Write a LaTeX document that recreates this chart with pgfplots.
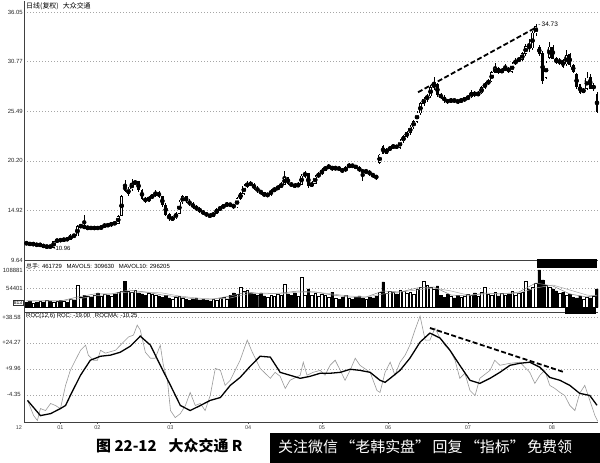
\documentclass[border=0pt]{standalone}
\usepackage{fontspec}
\setmainfont{Liberation Sans}
\newfontfamily\cjk{Noto Sans CJK SC}
\usepackage{pgfplots}
\usepackage{pgfplotstable}
\pgfplotsset{compat=1.18}

\pgfplotstableread{
i o h l c v
0 11.5 11.6 11.2 11.4 14.7
1 11.4 11.5 11.2 11.3 17.7
2 11.3 11.5 11.2 11.35 11.8
3 11.35 11.4 11.1 11.2 14.7
4 11.2 11.4 11.1 11.3 17.7
5 11.3 11.3 10.96 11.0 14.7
6 11.0 11.2 10.96 11.1 20.6
7 11.1 11.2 10.96 11.0 17.7
8 11.0 11.7 11.0 11.6 14.7
9 11.6 11.9 11.5 11.8 17.7
10 11.8 11.9 11.6 11.7 20.6
11 11.7 12.0 11.6 11.9 17.7
12 11.9 12.0 11.7 11.8 14.7
13 11.8 12.4 11.8 12.3 23.5
14 12.3 12.4 12.0 12.2 20.6
15 12.2 13.4 12.2 13.2 64.7
16 13.2 13.5 13.0 13.3 29.4
17 13.3 14.4 12.9 13.0 35.3
18 13.0 13.3 12.9 13.1 32.4
19 13.1 13.2 12.9 13.0 29.4
20 13.0 13.2 12.9 13.1 35.3
21 13.1 13.2 12.9 13.0 41.2
22 13.0 13.3 12.9 13.2 32.4
23 13.2 13.5 13.1 13.4 38.3
24 13.4 13.5 13.2 13.3 35.3
25 13.3 13.7 13.2 13.6 32.4
26 13.6 13.7 13.4 13.5 38.3
27 13.5 14.4 13.5 14.3 44.1
28 14.4 16.6 14.3 16.4 47.1
29 17.6 18.2 16.9 17.0 76.5
30 16.7 17.4 16.5 17.2 47.1
31 17.2 18.3 17.0 17.8 44.1
32 17.8 18.1 17.6 18.0 50.0
33 18.0 18.1 16.9 17.1 41.2
34 17.1 17.2 16.0 16.2 38.3
35 16.2 16.4 15.7 15.9 35.3
36 15.9 16.5 15.8 16.3 41.2
37 16.3 16.7 16.1 16.5 38.3
38 16.5 17.1 16.3 16.9 35.3
39 16.9 17.0 16.2 16.4 32.4
40 16.4 16.5 15.3 15.5 29.4
41 15.5 15.7 14.3 14.5 35.3
42 14.5 14.6 13.8 14.0 26.5
43 14.0 14.3 13.8 14.1 23.5
44 14.1 14.8 14.0 14.6 29.4
45 14.6 16.0 14.5 15.8 32.4
46 15.8 16.6 15.6 16.4 26.5
47 16.4 16.5 15.7 15.9 23.5
48 15.9 16.1 15.4 15.6 20.6
49 15.6 15.8 15.1 15.3 23.5
50 15.3 15.5 14.9 15.1 26.5
51 15.1 15.3 14.6 14.8 20.6
52 14.8 15.0 14.4 14.6 23.5
53 14.6 14.8 14.2 14.4 20.6
54 14.4 14.6 14.1 14.3 17.7
55 14.3 14.8 14.2 14.6 23.5
56 14.6 15.2 14.5 15.0 20.6
57 15.0 15.4 14.9 15.2 26.5
58 15.2 15.6 15.1 15.5 29.4
59 15.5 15.8 15.3 15.6 23.5
60 15.6 15.7 15.3 15.5 35.3
61 15.5 15.6 15.1 15.3 41.2
62 15.3 16.4 15.2 16.2 38.3
63 16.2 16.9 16.0 16.7 58.9
64 16.7 17.7 16.6 17.5 47.1
65 17.5 18.0 17.3 17.8 50.0
66 17.8 18.0 17.5 17.7 41.2
67 17.7 17.8 17.1 17.3 38.3
68 17.3 17.5 16.8 17.0 35.3
69 17.0 17.1 16.6 16.8 41.2
70 16.8 16.9 16.3 16.5 32.4
71 16.5 16.8 16.4 16.6 29.4
72 16.6 17.2 16.5 17.0 35.3
73 17.0 17.4 16.9 17.2 32.4
74 17.2 17.6 17.1 17.4 38.3
75 17.4 17.9 17.3 17.7 35.3
76 17.7 19.1 17.6 18.4 67.7
77 18.4 18.5 17.6 17.8 38.3
78 17.8 17.9 17.4 17.6 35.3
79 17.6 17.8 17.3 17.5 41.2
80 17.5 17.9 17.4 17.7 32.4
81 17.7 18.8 17.6 18.6 88.3
82 18.6 19.1 18.4 18.9 35.3
83 18.9 18.9 17.3 17.5 53.0
84 17.5 18.0 17.4 17.8 35.3
85 17.8 18.7 17.7 18.5 41.2
86 18.5 19.0 18.4 18.8 32.4
87 18.8 19.4 18.7 19.2 38.3
88 19.2 19.7 19.1 19.5 35.3
89 19.5 19.9 19.3 19.6 29.4
90 19.6 19.7 19.1 19.3 44.1
91 19.3 19.7 19.2 19.5 26.5
92 19.5 19.6 19.1 19.3 23.5
93 19.3 19.4 18.9 19.1 29.4
94 19.1 19.7 19.0 19.5 35.3
95 19.5 20.0 19.4 19.8 26.5
96 19.8 19.9 19.4 19.6 23.5
97 19.6 19.8 19.3 19.5 29.4
98 19.5 19.6 19.0 19.2 32.4
99 19.2 19.3 18.1 19.0 26.5
100 19.0 19.3 18.9 19.1 23.5
101 19.1 19.2 18.6 18.8 29.4
102 18.8 18.9 18.4 18.6 26.5
103 18.6 18.7 18.2 18.4 32.4
104 20.0 20.9 19.9 20.8 44.1
105 21.7 21.9 20.9 21.0 73.6
106 21.0 21.6 20.9 21.4 41.2
107 21.4 21.8 21.2 21.6 47.1
108 21.6 22.0 21.5 21.8 44.1
109 21.8 21.9 21.5 21.6 38.3
110 21.6 22.5 21.5 22.3 50.0
111 22.3 23.0 22.1 22.8 47.1
112 22.8 23.4 22.6 23.2 41.2
113 23.2 24.0 23.0 23.8 44.1
114 23.8 24.6 23.6 24.4 38.3
115 24.4 25.5 24.2 25.3 53.0
116 25.3 26.5 25.1 26.3 58.9
117 26.3 27.0 26.0 26.8 76.5
118 26.8 27.3 26.5 27.1 64.7
119 27.1 28.3 26.9 28.0 58.9
120 28.0 29.1 27.7 28.4 53.0
121 28.4 28.5 27.0 27.2 61.8
122 27.2 27.4 26.8 27.0 35.3
123 27.0 27.2 26.4 26.6 29.4
124 26.6 26.8 26.3 26.5 38.3
125 26.5 26.9 26.4 26.7 32.4
126 26.7 26.8 26.4 26.6 26.5
127 26.6 26.7 26.3 26.5 35.3
128 26.5 26.9 26.4 26.7 29.4
129 26.7 27.0 26.5 26.8 32.4
130 26.8 27.2 26.7 27.0 38.3
131 27.0 27.7 26.9 27.5 35.3
132 27.5 27.6 27.0 27.2 41.2
133 27.2 27.6 27.1 27.4 32.4
134 27.4 28.2 27.3 28.0 44.1
135 28.0 28.6 27.9 28.4 58.9
136 28.4 28.9 28.3 28.7 38.3
137 28.7 29.8 28.6 29.6 35.3
138 29.6 30.6 29.5 30.1 44.1
139 30.1 30.2 29.4 29.6 32.4
140 29.6 30.1 29.5 29.9 41.2
141 29.9 30.5 29.8 30.1 35.3
142 30.1 30.2 29.5 29.7 38.3
143 29.7 30.7 29.6 30.5 47.1
144 30.5 31.1 30.4 30.9 35.3
145 30.9 31.3 30.7 31.0 41.2
146 31.0 31.8 30.8 31.6 44.1
147 31.6 32.6 31.4 32.4 76.5
148 32.4 33.2 31.8 32.2 53.0
149 32.2 34.0 32.0 33.8 58.9
150 33.8 34.73 33.5 34.5 70.6
151 32.3 32.5 31.4 31.6 108.9
152 31.7 31.9 28.4 28.7 79.5
153 29.1 30.8 28.9 30.6 64.7
154 31.2 32.9 31.0 32.3 58.9
155 32.3 32.5 31.0 31.1 53.0
156 31.1 31.3 30.5 30.6 47.1
157 30.6 31.2 30.4 30.9 41.2
158 30.9 31.0 30.1 30.2 44.1
159 30.5 32.0 30.3 31.4 35.3
160 31.5 31.7 30.2 30.4 38.3
161 30.4 30.5 29.6 29.7 29.4
162 29.4 29.5 27.9 28.1 26.5
163 28.3 28.4 27.3 27.5 32.4
164 27.5 28.0 27.4 27.8 23.5
165 27.9 29.7 27.7 29.0 29.4
166 29.1 29.4 27.8 27.9 26.5
167 27.9 28.5 27.6 28.2 32.4
168 27.3 27.5 25.3 25.4 53.0
}\price

\pgfplotsset{
  panel/.style={
    scale only axis, width=574bp,
    xmin=-0.74, xmax=168.3,
    axis x line*=bottom, axis y line*=left,
    axis line style={black!75, line width=0.5bp},
    ymajorgrids,
    grid style={black!35, dash pattern=on 1.2bp off 1.8bp, line width=0.4bp},
    yticklabel style={font=\fontsize{6}{6}\selectfont, inner sep=1bp, text=black!85},
    ytick style={draw=none},
    xtick=\empty,
    clip mode=individual,
  },
  upc/.style={restrict expr to domain={\thisrow{c}-\thisrow{o}}{0:1000}},
  dnc/.style={restrict expr to domain={\thisrow{c}-\thisrow{o}}{-1000:-0.0001}},
}

\begin{document}
\begin{tikzpicture}
\useasboundingbox (0,0) rectangle (600bp,463bp);

% ---------------- price panel ----------------
\begin{axis}[panel, name=price,
  at={(24bp,462bp)}, anchor=north west, height=259bp,
  ymin=9.64, ymax=37.22,
  ytick={9.64,14.92,20.20,25.49,30.77,36.05},
  yticklabels={9.64,14.92,20.20,25.49,30.77,36.05},
]
% wicks
\addplot[forget plot, only marks, mark=none,
  error bars/.cd, y dir=both, y explicit, error mark=none,
  error bar style={draw=black, line width=0.5bp}]
  table[x=i, y expr={(\thisrow{h}+\thisrow{l})/2}, y error expr={(\thisrow{h}-\thisrow{l})/2}] {\price};
% bodies (black outline / filled)
\addplot[forget plot, only marks, mark=none,
  error bars/.cd, y dir=both, y explicit, error mark=none,
  error bar style={draw=black, line width=2.8bp}]
  table[x=i, y expr={(\thisrow{o}+\thisrow{c})/2}, y error expr={abs(\thisrow{c}-\thisrow{o})/2+0.03}] {\price};
% hollow interior of rising candles
\addplot[forget plot, only marks, mark=none, upc,
  error bars/.cd, y dir=both, y explicit, error mark=none,
  error bar style={draw=white, line width=1.8bp}]
  table[x=i, y expr={(\thisrow{o}+\thisrow{c})/2}, y error expr={max(abs(\thisrow{c}-\thisrow{o})/2-0.03,0)}] {\price};
% trend line
\addplot[black, line width=1.8bp, dash pattern=on 5bp off 2.5bp] coordinates {(115.3,27.5) (150.3,34.45)};
\node[anchor=west, font=\fontsize{6.5}{6.5}\selectfont, inner sep=1bp] at (axis cs:150.4,34.73) {-\,34.73};
\node[anchor=west, font=\fontsize{6}{6}\selectfont, inner sep=1bp] at (axis cs:7.6,10.85) {-10.96};
\end{axis}
\node[anchor=north west, inner sep=0pt, font=\fontsize{7}{7}\selectfont\cjk] at (26bp,461bp) {日线(复权)\hspace{4bp}大众交通};

% ---------------- volume panel ----------------
\begin{axis}[panel, name=vol,
  at={(24bp,203bp)}, anchor=north west, height=52bp,
  ymin=-14.7, ymax=138.3,
  ytick={54.44,108.881},
  yticklabels={54401,108881},
]
\addplot[forget plot, ybar, bar width=2.6bp, bar shift=0pt, draw=black, fill=white, line width=0.4bp, upc]
  table[x=i, y=v] {\price};
\addplot[forget plot, ybar, bar width=2.6bp, bar shift=0pt, draw=black, fill=black, line width=0.4bp, dnc]
  table[x=i, y=v] {\price};
\addplot[black!50, line width=0.5bp] coordinates {
(0,17.7)(10,17.7)(15,29.4)(20,38.3)(25,38.3)(30,50.0)(35,44.1)(40,35.3)(45,29.4)(50,23.5)(55,23.5)(60,32.4)(65,44.1)(70,38.3)(75,41.2)(80,47.1)(85,44.1)(90,35.3)(95,29.4)(100,29.4)(105,47.1)(110,44.1)(115,55.9)(120,58.9)(125,35.3)(130,32.4)(135,41.2)(140,38.3)(145,44.1)(150,70.6)(155,61.8)(160,38.3)(165,29.4)(168,35.3)};
\addplot[black!35, line width=0.5bp] coordinates {
(0,17.7)(10,17.7)(15,23.5)(20,32.4)(25,38.3)(30,44.1)(35,44.1)(40,41.2)(45,32.4)(50,26.5)(55,23.5)(60,26.5)(65,38.3)(70,41.2)(75,38.3)(80,44.1)(85,44.1)(90,38.3)(95,32.4)(100,29.4)(105,38.3)(110,44.1)(115,50.0)(120,55.9)(125,47.1)(130,35.3)(135,38.3)(140,38.3)(145,41.2)(150,55.9)(155,64.7)(160,50.0)(165,35.3)(168,32.4)};
\end{axis}
\node[anchor=north west, inner sep=0pt, font=\fontsize{6}{6}\selectfont] at (26bp,200bp) {{\cjk 总手}: 461729\hspace{3bp} MAVOL5: 309630\hspace{3bp} MAVOL10: 296205};
\fill[black] (537bp,195bp) rectangle (597bp,204bp);
\fill[black] (565bp,149bp) rectangle (596bp,156bp);
\node[draw=black!80, inner sep=0.6bp, font=\fontsize{5}{5}\selectfont, anchor=east] at (23bp,160bp) {813};

% ---------------- ROC panel ----------------
\begin{axis}[panel, name=roc,
  at={(24bp,151bp)}, anchor=north west, height=110bp,
  ymin=-19.43, ymax=41.34,
  ytick={-4.35,9.96,24.27,38.58},
  yticklabels={-4.35,+9.96,+24.27,+38.58},
  xtick={10,20.9,42.4,65.3,87,106.5,130,154.7},
  xticklabels={01,02,03,04,05,06,07,08},
  xtick pos=bottom, tick align=outside, major tick length=2bp,
  xtick style={draw=black!70, line width=0.4bp},
  xticklabel style={font=\fontsize{5.5}{5.5}\selectfont, text=black!75, inner sep=1.5bp},
]
\addplot[black!40, line width=0.6bp] coordinates {
(0.3,-7.5)(2.1,-15.9)(3.2,-18.6)(4.1,-12.0)(5.6,-13.1)(7.1,-9.2)(8.5,-10.3)(10,-12.0)(11.5,0.8)(12.9,9.1)(14.4,14.7)(15.9,20.2)(17.4,23.0)(18.2,17.5)(19.7,14.7)(20.9,14.7)(21.8,20.2)(23.2,18.6)(26.2,20.2)(29.1,25.8)(30,27.5)(31.5,28.6)(32.6,34.1)(33.5,31.4)(35,19.1)(36.5,15.8)(37.9,15.8)(39.4,23.0)(40.3,11.9)(41.5,3.6)(42.4,-13.1)(43.8,-17.0)(45.3,-14.8)(46.8,-10.3)(48.2,-3.1)(49.7,-10.3)(51.2,-9.2)(52.6,-13.1)(54.1,-4.8)(55.6,10.2)(57.1,9.1)(58.5,0.8)(60,3.6)(62.9,14.7)(65,25.8)(66.5,19.1)(68.8,10.2)(71.8,4.7)(73.2,8.0)(74.7,5.8)(76.2,-0.9)(77.6,3.6)(80.6,6.4)(81.5,13.6)(82.6,6.4)(84.4,8.0)(86.5,9.1)(87.9,6.4)(89.4,11.9)(90.9,14.7)(92.4,9.1)(93.8,3.6)(95.3,9.1)(96.8,15.8)(98.2,11.9)(101.2,8.0)(103.2,-2.0)(104.1,-3.1)(105.6,8.0)(107.1,13.6)(108.5,6.4)(110,13.6)(111.5,17.5)(112.9,23.0)(114.4,31.4)(115.9,39.1)(117.4,25.8)(118.8,25.8)(120.3,32.5)(121.8,26.9)(123.2,23.0)(124.7,20.2)(126.2,14.7)(127.6,4.7)(129.1,7.5)(130.6,-2.0)(132.1,-4.8)(133.5,4.7)(136.5,9.1)(137.9,14.7)(139.4,11.9)(142.4,13.0)(145.3,13.6)(148.2,8.0)(149.7,1.9)(151.2,6.4)(152.6,9.1)(154.1,0.8)(155.6,-0.9)(157.1,-3.1)(158.5,-4.8)(160,-10.3)(161.5,-13.1)(162.9,-3.6)(164.4,0.8)(165.9,-7.5)(167.4,-15.9)(168.2,-19.0)};
\addplot[black, line width=1.3bp] coordinates {
(0.3,-7.5)(4.1,-15.9)(7.1,-14.8)(10,-12.0)(11.5,-10.3)(12.9,-4.8)(15.9,6.4)(18.8,14.7)(21.8,16.9)(24.7,17.5)(27.6,19.1)(30.6,22.5)(33.5,28.0)(36.5,23.0)(39.4,11.9)(42.4,0.8)(45.3,-10.3)(48.2,-13.1)(51.2,-10.3)(54.1,-7.5)(57.1,-5.9)(60,0.8)(62.9,5.2)(65.9,11.4)(68.8,16.9)(71.8,16.4)(74.7,8.0)(77.6,6.4)(80.6,4.7)(83.5,5.8)(86.5,7.5)(89.4,7.5)(92.4,8.0)(95.3,9.7)(98.2,9.1)(101.2,8.0)(104.1,3.6)(105.6,2.5)(107.1,4.7)(110,9.1)(112.9,15.8)(115.9,24.7)(118.8,29.7)(121.8,26.9)(124.7,20.2)(127.6,11.9)(130.6,3.6)(133.5,1.9)(136.5,4.7)(139.4,8.0)(142.4,11.9)(145.3,13.0)(148.2,13.6)(151.2,10.8)(154.1,5.2)(157.1,3.6)(160,0.8)(162.9,-3.6)(165.9,-4.8)(168,-10.2)};
\addplot[black, line width=1.8bp, dash pattern=on 5bp off 2.5bp] coordinates {(118.8,32.5) (158.5,8.0)};
\node[anchor=north, font=\fontsize{5.5}{5.5}\selectfont, text=black!75, inner sep=1.5bp] at ([xshift=-5bp,yshift=-2bp]rel axis cs:0,0) {12};
\end{axis}
\node[anchor=north west, inner sep=0pt, font=\fontsize{6}{6}\selectfont] at (26bp,150bp) {ROC(12,6) ROC: -19.00\hspace{3bp} ROCMA: -10.25};

% ---------------- caption ----------------
\node[anchor=west, inner sep=0pt, font=\fontsize{15}{15}\selectfont\cjk\bfseries] at (96bp,17bp) {图 22-12\hspace{12bp}大众交通 R};
\fill[black] (270bp,0bp) rectangle (600bp,30bp);
\node[anchor=west, inner sep=0pt, text=white, font=\fontsize{15}{15}\selectfont\cjk] at (278bp,16bp) {关注微信\,“老韩实盘”\,回复\,“指标”\,免费领};
\end{tikzpicture}
\end{document}
